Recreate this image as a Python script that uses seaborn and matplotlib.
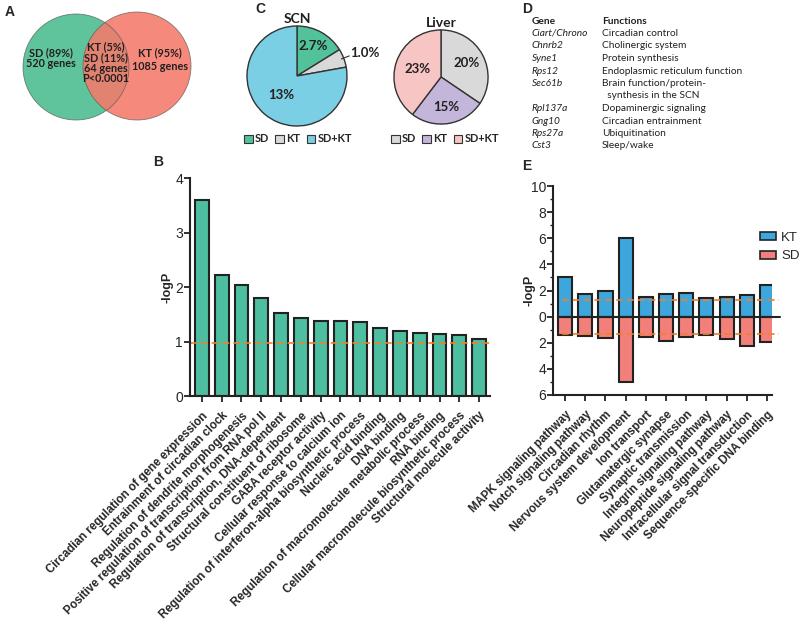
import numpy as np
import pandas as pd
import matplotlib
matplotlib.use("Agg")
import matplotlib.pyplot as plt
from matplotlib.patches import Circle, Patch
from matplotlib.ticker import MultipleLocator, FuncFormatter
import seaborn as sns

# ---- data ----
venn_left = ["SD (89%)", "520 genes"]
venn_mid = ["KT (5%)", "SD (11%)", "64 genes", "P<0.0001"]
venn_right = ["KT (95%)", "1085 genes"]

pie_groups = ["SD", "KT", "SD+KT"]
scn_vals = [2.7, 1.0, 13]
liver_vals = [20, 15, 23]

genes = ["Ciart/Chrono", "Chnrb2", "Syne1", "Rps12", "Sec61b", "", "Rpl137a", "Gng10", "Rps27a", "Cst3"]
functions = ["Circadian control", "Cholinergic system", "Protein synthesis",
             "Endoplasmic reticulum function", "Brain function/protein-",
             "  synthesis in the SCN", "Dopaminergic signaling",
             "Circadian entrainment", "Ubiquitination", "Sleep/wake"]

go_terms = ["Circadian regulation of gene expression",
            "Entrainment of circadian clock",
            "Regulation of dendrite morphogenesis",
            "Positive regulation of transcription from RNA pol II",
            "Regulation of transcription, DNA-dependent",
            "Structural constituent of ribosome",
            "GABA receptor activity",
            "Cellular response to calcium ion",
            "Regulation of interferon-alpha biosynthetic process",
            "Nucleic acid binding",
            "DNA binding",
            "Regulation of macromolecule metabolic process",
            "RNA binding",
            "Cellular macromolecule biosynthetic process",
            "Structural molecule activity"]
go_logp = [3.60, 2.22, 2.04, 1.79, 1.52, 1.43, 1.38, 1.38, 1.36, 1.25, 1.19, 1.16, 1.13, 1.12, 1.04]
go_cutoff = 0.97

pathways = ["MAPK signaling pathway", "Notch signaling pathway", "Circadian rhythm",
            "Nervous system development", "Ion transport", "Glutamatergic synapse",
            "Synaptic transmission", "Integrin signaling pathway",
            "Neuropeptide signaling pathway", "Intracellular signal transduction",
            "Sequence-specific DNA binding"]
kt_logp = [3.0, 1.7, 2.0, 6.0, 1.5, 1.75, 1.83, 1.45, 1.53, 1.66, 2.42]
sd_logp = [1.40, 1.45, 1.60, 4.97, 1.58, 1.84, 1.56, 1.38, 1.68, 2.27, 1.96]
path_cutoff = 1.3

# ---- style ----
sns.set_style("white")
plt.rcParams['font.family'] = ['Liberation Sans', 'DejaVu Sans']

green = "#4DBEA0"
W, H = 800, 625


def box(l, t, r, b):
    return [l / W, 1 - b / H, (r - l) / W, (b - t) / H]


def style_axes(ax, width):
    sns.despine(ax=ax)
    for s in ["left", "bottom"]:
        ax.spines[s].set_linewidth(1.5)
        ax.spines[s].set_color("#222222")
    ax.tick_params(axis="both", which="major", direction="out", length=4, width=1.3,
                   color="#222222", bottom=True, left=True)
    ax.tick_params(axis="y", labelsize=10, pad=1)
    ax.tick_params(axis="x", pad=6)
    for lbl in ax.get_xticklabels():
        lbl.set_rotation(45)
        lbl.set_ha("right")
        lbl.set_rotation_mode("anchor")
        lbl.set_fontweight("bold")
        lbl.set_fontsize(8.4)
    ax.set_xlabel("")
    ax.set_ylabel("-logP", fontsize=9, fontweight="bold")
    ax.yaxis.set_label_coords(-17 / width, 0.5)


fig = plt.figure(figsize=(8, 6.25), dpi=100)

# panel letters
for letter, x, y in [("A", 5, 12), ("C", 255, 9), ("D", 522, 9), ("B", 153, 162), ("E", 522, 166)]:
    fig.text(x / W, 1 - y / H, letter, fontsize=10, fontweight="bold", va="center", ha="left")

# ---- A: Venn ----
axA = fig.add_axes(box(0, 0, 200, 140))
axA.set_xlim(0, 200)
axA.set_ylim(140, 0)
axA.axis("off")
axA.add_patch(Circle((76, 67), 53, facecolor="#5FC49B", edgecolor="none"))
axA.add_patch(Circle((137, 66), 54, facecolor="#F47A6A", edgecolor="none", alpha=0.88))
axA.add_patch(Circle((76, 67), 53, facecolor="none", edgecolor="#555555", lw=0.6, alpha=0.7))
axA.add_patch(Circle((137, 66), 54, facecolor="none", edgecolor="#555555", lw=0.6, alpha=0.7))
vf = dict(family="Lato", fontweight="bold", fontsize=7.8, color="#231F20", ha="center", va="center")
for i, s in enumerate(venn_left):
    axA.text(51, 53 + i * 10.5, s, **vf)
for i, s in enumerate(venn_mid):
    axA.text(106, 47 + i * 10.5, s, **vf)
for i, s in enumerate(venn_right):
    axA.text(160, 53 + i * 13, s, **vf)

# ---- C: pies ----
pf = dict(family="Lato", fontweight="bold", color="#231F20")


def draw_pie(rect, vals, cols, title, label_r):
    ax = fig.add_axes(rect)
    wedges, _ = ax.pie(vals, colors=cols, startangle=90, counterclock=False,
                       wedgeprops=dict(edgecolor="#333333", linewidth=1.0))
    ax.set_xlim(-1.02, 1.02)
    ax.set_ylim(-1.02, 1.02)
    ax.set_aspect("equal")
    ax.set_title(title, fontsize=10, pad=0, **pf)
    for w, v, r in zip(wedges, vals, label_r):
        ang = np.deg2rad((w.theta1 + w.theta2) / 2)
        txt = f"{v:g}%" if v >= 10 else f"{v:.1f}%"
        if r > 1:
            ax.plot([0.95 * np.cos(ang), 1.12 * np.cos(ang)], [0.95 * np.sin(ang), 1.12 * np.sin(ang)],
                    color="#333333", lw=0.8, clip_on=False)
            ax.text(1.13 * np.cos(ang), 1.13 * np.sin(ang) + 0.05, txt, fontsize=9.5, ha="left", va="center", **pf)
        else:
            ax.text(r * np.cos(ang), r * np.sin(ang), txt, fontsize=9.5, ha="center", va="center", **pf)
    return ax


scn_cols = ["#52C29B", "#D9D9D9", "#7ACFE4"]
liver_cols = ["#D9D9D9", "#C4B6DB", "#F7C5C3"]
draw_pie(box(246, 25, 348, 127), scn_vals, scn_cols, "SCN", [0.68, 1.3, 0.5])
draw_pie(box(393, 29, 489, 125), liver_vals, liver_cols, "Liver", [0.62, 0.65, 0.52])

for cols, cx in [(scn_cols, 298), (liver_cols, 445)]:
    hs = [Patch(facecolor=c, edgecolor="#333333", linewidth=0.8) for c in cols]
    fig.legend(handles=hs, labels=pie_groups, loc="center", bbox_to_anchor=(cx / W, 1 - 139 / H),
               ncol=3, frameon=False, handlelength=0.8, handleheight=0.8, handletextpad=0.2,
               columnspacing=0.6, prop=dict(family="Lato", weight="bold", size=7.8))

# ---- D: table ----
tf = dict(family="Lato", fontsize=7.3, color="#231F20", va="center", ha="left")
fig.text(532 / W, 1 - 21 / H, "Gene", fontweight="bold", **tf)
fig.text(602 / W, 1 - 21 / H, "Functions", fontweight="bold", **tf)
for i, (g, f) in enumerate(zip(genes, functions)):
    y = 1 - (33.5 + i * 12.5) / H
    fig.text(532 / W, y, g, style="italic", **tf)
    fig.text(602 / W, y, f, **tf)

# ---- B: GO bar chart ----
axB = fig.add_axes(box(190, 178, 490, 396))
sns.barplot(x=go_terms, y=go_logp, color=green, saturation=1, width=0.7,
            edgecolor="#222222", linewidth=1.5, ax=axB)
axB.axhline(go_cutoff, color="#F07F2A", ls=(0, (4, 2.5)), lw=1.2, xmin=0, xmax=1.01, clip_on=False)
axB.set_xlim(-0.6, len(go_terms) - 0.45)
axB.set_ylim(0, 4)
axB.set_yticks([0, 1, 2, 3, 4])
style_axes(axB, 300)

# ---- E: pathway bar chart ----
dfE = pd.DataFrame({
    "pathway": pathways * 2,
    "group": ["KT"] * len(pathways) + ["SD"] * len(pathways),
    "value": kt_logp + [-v for v in sd_logp],
})
pal = {"KT": "#3DA6DC", "SD": "#F27F7A"}
axE = fig.add_axes(box(553, 186, 772, 395))
sns.barplot(data=dfE, x="pathway", y="value", hue="group", palette=pal, dodge=False,
            saturation=1, width=0.7, edgecolor="#222222", linewidth=1.5, ax=axE)
axE.get_legend().remove()
axE.axhline(0, color="#222222", lw=1.5, xmin=0.04, xmax=1.035, clip_on=False, zorder=5)
for yc in [path_cutoff, -path_cutoff]:
    axE.axhline(yc, color="#F07F2A", ls=(0, (4, 2.5)), lw=1.2, xmin=0.04, xmax=1.03, clip_on=False, zorder=6)
axE.set_xlim(-0.6, len(pathways) - 0.75)
axE.set_ylim(-6, 10)
axE.yaxis.set_major_locator(MultipleLocator(2))
axE.yaxis.set_minor_locator(MultipleLocator(1))
axE.yaxis.set_major_formatter(FuncFormatter(lambda v, p: f"{abs(v):.0f}"))
style_axes(axE, 219)
axE.tick_params(axis="y", which="minor", direction="out", length=2.5, width=1.0, color="#222222", left=True)

hE = [Patch(facecolor=pal[g], edgecolor="#222222", linewidth=1.2) for g in ["KT", "SD"]]
fig.legend(handles=hE, labels=["KT", "SD"], loc="upper left", bbox_to_anchor=(748 / W, 1 - 220 / H),
           frameon=False, handlelength=1.2, handleheight=0.6, handletextpad=0.4, labelspacing=0.5,
           fontsize=9.5)

fig.savefig("out.png", dpi=100)
